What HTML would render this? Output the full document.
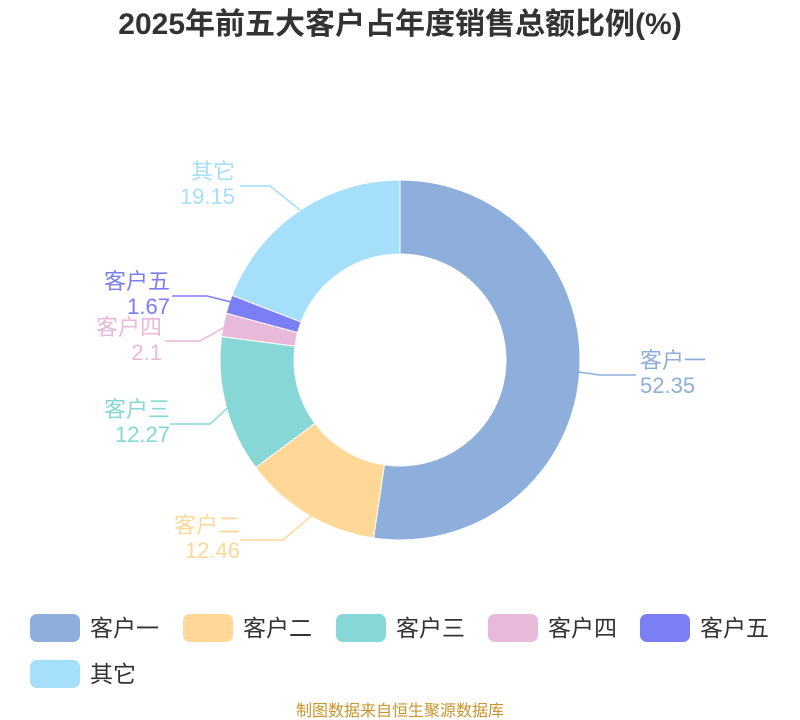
<!DOCTYPE html>
<html><head><meta charset="utf-8">
<style>
html,body{margin:0;padding:0;background:#fff;}
svg{display:block;font-family:"Liberation Sans","Noto Sans CJK SC",sans-serif;}
</style></head>
<body>
<svg id="s" width="800" height="720" viewBox="0 0 800 720" xmlns="http://www.w3.org/2000/svg">
<text x="400" y="34" text-anchor="middle" font-size="30" font-weight="bold" fill="#333">2025年前五大客户占年度销售总额比例(%)</text>
<g id="arcs"></g>
<g fill="none" stroke-width="1.5">
<polyline points="578,372 600,375 636,375" stroke="#8eaedb"/>
<polyline points="330,500 283,540 240,540" stroke="#ffd898"/>
<polyline points="232,404 210,424 170,424" stroke="#88d7d7"/>
<polyline points="225,327 200,341 165,341" stroke="#e8b9d9"/>
<polyline points="231,302 207,296 172,296" stroke="#7b7ef5"/>
<polyline points="300,210 270,186 240,186" stroke="#a6dffa"/>
</g>
<g font-size="22">
<text x="640" y="368" fill="#8eaedb">客户一</text>
<text x="640" y="393" fill="#8eaedb">52.35</text>
<text x="240" y="533" text-anchor="end" fill="#ffd898">客户二</text>
<text x="240" y="558" text-anchor="end" fill="#ffd898">12.46</text>
<text x="170" y="417" text-anchor="end" fill="#88d7d7">客户三</text>
<text x="170" y="442" text-anchor="end" fill="#88d7d7">12.27</text>
<text x="162" y="335" text-anchor="end" fill="#e8b9d9">客户四</text>
<text x="162" y="360" text-anchor="end" fill="#e8b9d9">2.1</text>
<text x="170" y="289" text-anchor="end" fill="#7b7ef5">客户五</text>
<text x="170" y="314" text-anchor="end" fill="#7b7ef5">1.67</text>
<text x="235" y="179" text-anchor="end" fill="#a6dffa">其它</text>
<text x="235" y="204" text-anchor="end" fill="#a6dffa">19.15</text>
</g>
<g font-size="23" fill="#333">
<rect x="30" y="614" width="50" height="28" rx="7" fill="#8eaedb"/><text x="90" y="636">客户一</text>
<rect x="183" y="614" width="50" height="28" rx="7" fill="#ffd898"/><text x="243" y="636">客户二</text>
<rect x="336" y="614" width="50" height="28" rx="7" fill="#88d7d7"/><text x="396" y="636">客户三</text>
<rect x="488" y="614" width="50" height="28" rx="7" fill="#e8b9d9"/><text x="548" y="636">客户四</text>
<rect x="640" y="614" width="50" height="28" rx="7" fill="#7b7ef5"/><text x="700" y="636">客户五</text>
<rect x="30" y="660" width="50" height="28" rx="7" fill="#a6dffa"/><text x="90" y="682">其它</text>
</g>
<text x="400" y="716" text-anchor="middle" font-size="16" fill="#c8962c">制图数据来自恒生聚源数据库</text>
</svg>
<script>
(function(){
var d=[52.35,12.46,12.27,2.1,1.67,19.15],c=["#8eaedb","#ffd898","#88d7d7","#e8b9d9","#7b7ef5","#a6dffa"];
var cx=400,cy=360,R=180,r=106,t=d.reduce(function(a,b){return a+b},0),a0=-Math.PI/2,g=document.getElementById("arcs"),h="";
function p(rad,a){return (cx+rad*Math.cos(a)).toFixed(2)+","+(cy+rad*Math.sin(a)).toFixed(2);}
for(var i=0;i<d.length;i++){
var a1=a0+d[i]/t*2*Math.PI,l=(a1-a0)>Math.PI?1:0;
h+='<path d="M'+p(R,a0)+' A'+R+','+R+' 0 '+l+' 1 '+p(R,a1)+' L'+p(r,a1)+' A'+r+','+r+' 0 '+l+' 0 '+p(r,a0)+' Z" fill="'+c[i]+'" stroke="#fff" stroke-width="1"/>';
a0=a1;}
g.innerHTML=h;
})();
</script>
</body></html>
